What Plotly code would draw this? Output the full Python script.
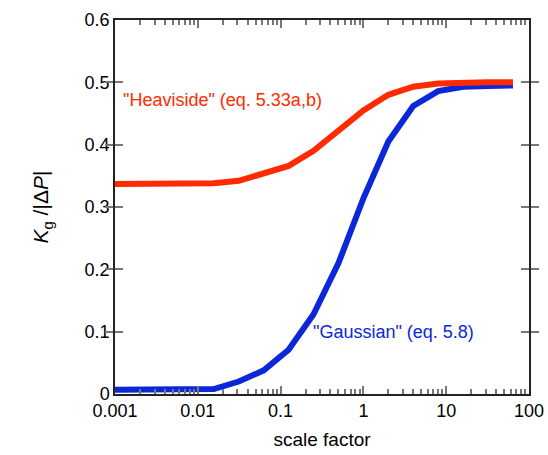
import plotly.graph_objects as go

# scale factor values (powers of two)
scale = [2.0**k for k in range(-10, 7)]
heaviside = [0.337, 0.337, 0.337, 0.337, 0.338, 0.342, 0.353, 0.366, 0.390,
             0.421, 0.455, 0.480, 0.493, 0.498, 0.4995, 0.500, 0.500]
gaussian = [0.007, 0.007, 0.007, 0.007, 0.008, 0.020, 0.038, 0.071, 0.128,
            0.210, 0.314, 0.405, 0.462, 0.486, 0.493, 0.494, 0.495]

xtickvals = [0.001, 0.01, 0.1, 1, 10, 100]
xticktext = ["0.001", "0.01", "0.1", "1", "10", "100"]
xminorvals = [m * 10.0**d for d in range(-3, 2) for m in range(2, 10)]
ytickvals = [0, 0.1, 0.2, 0.3, 0.4, 0.5, 0.6]
yticktext = ["0", "0.1", "0.2", "0.3", "0.4", "0.5", "0.6"]

RED = "#ff2a00"
BLUE = "#0a28d8"
FONT = "Liberation Sans"

fig = go.Figure()
fig.add_trace(go.Scatter(x=scale, y=gaussian, mode="lines",
                         line=dict(color=BLUE, width=6), showlegend=False))
fig.add_trace(go.Scatter(x=scale, y=heaviside, mode="lines",
                         line=dict(color=RED, width=6), showlegend=False))
# invisible trace to carry the minor-tick axis
fig.add_trace(go.Scatter(x=[scale[0]], y=[heaviside[0]], xaxis="x2", mode="markers",
                         marker=dict(opacity=0), hoverinfo="skip", showlegend=False))

fig.add_annotation(x=-2.93, y=0.472, xref="x", yref="y", xanchor="left", yanchor="middle",
                   text='"Heaviside" (eq. 5.33a,b)', showarrow=False,
                   font=dict(family=FONT, size=18, color=RED))
fig.add_annotation(x=-0.63, y=0.099, xref="x", yref="y", xanchor="left", yanchor="middle",
                   text='"Gaussian" (eq. 5.8)', showarrow=False,
                   font=dict(family=FONT, size=18, color=BLUE))

fig.update_layout(
    width=548, height=455,
    margin=dict(l=115, r=19, t=20, b=61),
    paper_bgcolor="white", plot_bgcolor="white",
    font=dict(family=FONT, size=18, color="black"),
    xaxis=dict(type="log", range=[-3, 2], tickmode="array", tickvals=xtickvals, ticktext=xticktext,
               ticks="inside", ticklen=8, tickwidth=1.5, tickcolor="#777", showgrid=False,
               showline=True, linecolor="#222", linewidth=1.5, mirror="allticks",
               zeroline=False, automargin=False,
               title=dict(text="scale factor", font=dict(size=19), standoff=12)),
    xaxis2=dict(type="log", range=[-3, 2], overlaying="x", anchor="y", side="bottom",
                tickmode="array", tickvals=xminorvals, showticklabels=False,
                ticks="inside", ticklen=5, tickwidth=1.5, tickcolor="#777", showgrid=False,
                showline=True, linecolor="rgba(0,0,0,0)", mirror="ticks",
                zeroline=False, automargin=False),
    yaxis=dict(range=[0, 0.6], tickvals=ytickvals, ticktext=yticktext,
               ticks="inside", ticklen=8, tickwidth=1.5, tickcolor="#777", showgrid=False,
               showline=True, linecolor="#222", linewidth=1.5, mirror="allticks",
               zeroline=False, automargin=False,
               title=dict(text="<i>K</i><sub>g</sub> /|Δ<i>P</i>|", font=dict(size=21), standoff=30)),
)

fig.write_html("out.html")
